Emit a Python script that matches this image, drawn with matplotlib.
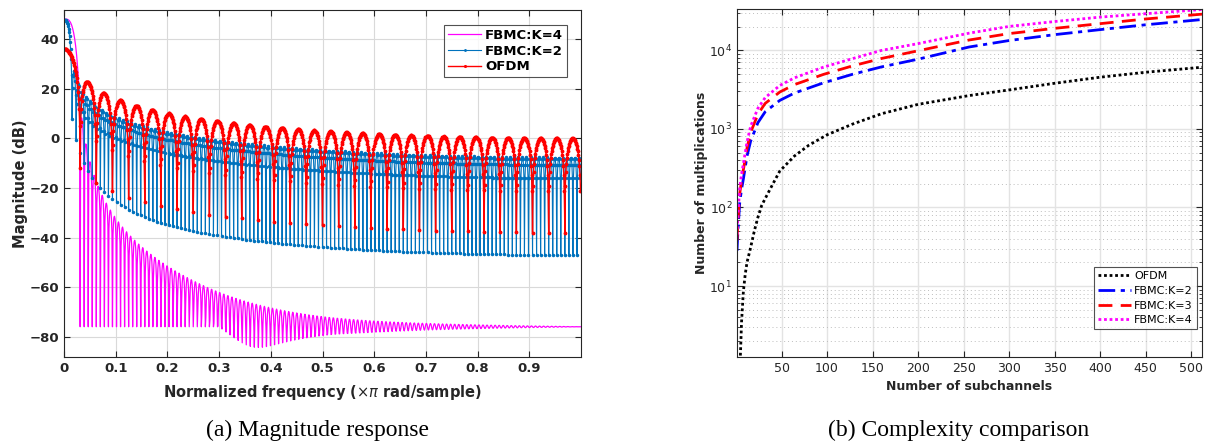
import numpy as np
import matplotlib
matplotlib.use("Agg")
import matplotlib.pyplot as plt
from matplotlib.ticker import FixedLocator, LogLocator, NullFormatter

# ---------------- data: panel (a) filter definitions ----------------
ofdm_len = 64                      # OFDM rectangular prototype length
fbmc_len = 256                     # FBMC prototype length (K*M)
k2_coeffs = [1.0, 0.70710678]      # PHYDYAS coefficients, K=2
k2_period = 251                    # cosine period of the K=2 prototype
k4_coeffs = [1.0, 0.97195983, 0.70710678, 0.23514695]  # PHYDYAS, K=4
k4_floor_db = -76.0                # residual floor
ofdm_bin_offset = 0.127            # frequency-grid offset of the OFDM curve
n_freq = 1024                      # freqz points

# ---------------- data: panel (b) complexity ----------------
n_sub = [1, 2, 4, 6, 8, 12, 16, 24, 32, 48, 64, 96, 128, 160, 200, 256,
         300, 350, 400, 450, 512]
ofdm_n = [4, 5, 6, 8, 10, 12, 16, 20, 24, 28, 32, 40, 48, 64, 80, 100, 128,
          160, 200, 256, 300, 350, 400, 450, 512]
ofdm_mult = [0.8, 1.6, 3.5, 8.5, 14, 20, 31, 50, 75, 105, 130, 195, 290,
             450, 620, 840, 1150, 1560, 2050, 2650, 3130, 3800, 4540, 5250, 6080]
k2_mult = [28, 50, 115, 170, 230, 450, 700, 1200, 1650, 2300, 2850, 3850,
           4950, 6150, 7700, 11000, 13300, 15800, 18300, 21100, 24600]
k3_mult = [38, 66, 150, 220, 300, 570, 900, 1540, 2110, 2940, 3650, 4930,
           6330, 7870, 9850, 13500, 16300, 19000, 21800, 25000, 28800]
k4_mult = [45, 80, 180, 265, 360, 680, 1080, 1830, 2500, 3560, 4450, 6100,
           7830, 9970, 12150, 16500, 20100, 23200, 26400, 29200, 33000]


def prototype(coeffs, L, period):
    n = np.arange(L)
    p = np.full(L, coeffs[0], dtype=float)
    for k in range(1, len(coeffs)):
        p += 2 * (-1) ** k * coeffs[k] * np.cos(2 * np.pi * k * n / period)
    return p


def dtft_db(h, w):
    n = np.arange(len(h))
    H = np.exp(-1j * np.outer(w, n)) @ h
    return 20 * np.log10(np.abs(H) + 1e-300)


w = np.pi * np.arange(n_freq) / n_freq
x = w / np.pi
h_ofdm = np.ones(ofdm_len)
h_k2 = prototype(k2_coeffs, fbmc_len, k2_period)
h_k4 = prototype(k4_coeffs, fbmc_len, fbmc_len)
h_k4[0] += 10 ** (k4_floor_db / 20)

mag_ofdm = dtft_db(h_ofdm, w + ofdm_bin_offset * np.pi / n_freq)
mag_k2 = dtft_db(h_k2, w)
mag_k4 = dtft_db(h_k4, w)

fig = plt.figure(figsize=(12.1, 4.43), dpi=100)

# ---------------- panel (a) ----------------
ax1 = fig.add_axes([64 / 1210, 1 - 357 / 443, (581 - 64) / 1210, (357 - 10) / 443])
ax1.plot(x, mag_k4, color="#FF00FF", lw=0.9, label="FBMC:K=4")
ax1.plot(x, mag_k2, color="#0072BD", lw=0.8, marker=".", ms=3,
         label="FBMC:K=2")
ax1.plot(x, mag_ofdm, color="#FF0000", lw=1.0, marker=".", ms=3.5,
         label="OFDM")
ax1.set_xlim(0, 1)
ax1.set_ylim(-88.2, 51.8)
ax1.set_xticks([0, 0.1, 0.2, 0.3, 0.4, 0.5, 0.6, 0.7, 0.8, 0.9])
ax1.set_xticklabels(["0", "0.1", "0.2", "0.3", "0.4", "0.5", "0.6", "0.7",
                     "0.8", "0.9"])
ax1.set_yticks([-80, -60, -40, -20, 0, 20, 40])
ax1.grid(True, color="#d9d9d9", lw=0.8)
ax1.set_axisbelow(True)
ax1.tick_params(direction="in", top=True, right=True, labelsize=9.5,
                colors="#262626", length=4)
for lab in ax1.get_xticklabels() + ax1.get_yticklabels():
    lab.set_fontweight("bold")
for s in ax1.spines.values():
    s.set_color("#262626")
ax1.set_xlabel(r"Normalized frequency ($\times\pi$ rad/sample)",
               fontsize=10.5, fontweight="bold", color="#262626", labelpad=6)
ax1.set_ylabel("Magnitude (dB)", fontsize=10.5, fontweight="bold",
               color="#262626", labelpad=1)
leg1 = ax1.legend(loc="upper right", bbox_to_anchor=(0.973, 0.957),
                  borderaxespad=0,
                  prop={"weight": "bold", "size": 9.5}, frameon=True,
                  fancybox=False, edgecolor="#262626", handlelength=2.5,
                  borderpad=0.3, labelspacing=0.2, handletextpad=0.3,
                  markerscale=0.7)
leg1.get_frame().set_linewidth(0.8)

# ---------------- panel (b) ----------------
ax2 = fig.add_axes([737 / 1210, 1 - 357 / 443, (1202 - 737) / 1210, (357 - 9) / 443])
ax2.plot(ofdm_n, ofdm_mult, color="black", ls=(0, (1, 1)), lw=2.0,
         label="OFDM")
ax2.plot(n_sub, k2_mult, color="#0000FF", ls=(0, (6, 2, 1.5, 2)), lw=2.0,
         label="FBMC:K=2")
ax2.plot(n_sub, k3_mult, color="#FF0000", ls=(0, (5, 3)), lw=2.0,
         label="FBMC:K=3")
ax2.plot(n_sub, k4_mult, color="#FF00FF", ls=(0, (1, 1)), lw=2.0,
         label="FBMC:K=4")
ax2.set_yscale("log")
ax2.set_xlim(1, 512)
ax2.set_ylim(1.25, 33500)
ax2.set_xticks([50, 100, 150, 200, 250, 300, 350, 400, 450, 500])
ax2.yaxis.set_major_locator(FixedLocator([10, 100, 1000, 10000]))
ax2.yaxis.set_minor_locator(LogLocator(base=10, subs=np.arange(2, 10), numticks=20))
ax2.yaxis.set_minor_formatter(NullFormatter())
ax2.grid(True, which="major", color="#e3e3e3", lw=1.0)
ax2.grid(True, which="minor", axis="y", color="#bdbdbd", ls=(0, (1, 3)), lw=0.7)
ax2.set_axisbelow(True)
ax2.tick_params(which="both", direction="in", top=True, right=True,
                labelsize=9, colors="#262626")
ax2.tick_params(which="major", length=4)
ax2.tick_params(which="minor", length=2.5)
for s in ax2.spines.values():
    s.set_color("#262626")
ax2.set_xlabel("Number of subchannels", fontsize=9, fontweight="bold",
               color="#262626", labelpad=4)
ax2.set_ylabel("Number of multiplications", fontsize=9, fontweight="bold",
               color="#262626", labelpad=1)
leg2 = ax2.legend(loc="lower right", bbox_to_anchor=(0.989, 0.08),
                  borderaxespad=0,
                  prop={"size": 8}, frameon=True, fancybox=False,
                  edgecolor="#262626", handlelength=3.0, borderpad=0.35,
                  labelspacing=0.42, handletextpad=0.3)
leg2.get_frame().set_linewidth(0.8)

# ---------------- captions ----------------
fig.text(318 / 1210, 1 - 430 / 443, "(a) Magnitude response",
         family="Liberation Serif", fontsize=17, ha="center", va="center")
fig.text(959 / 1210, 1 - 430 / 443, "(b) Complexity comparison",
         family="Liberation Serif", fontsize=17, ha="center", va="center")

fig.savefig("out.png", dpi=100)
